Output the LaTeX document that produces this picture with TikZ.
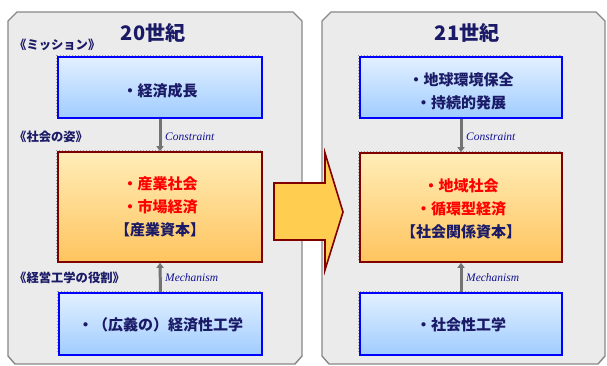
\documentclass[tikz,border=0pt]{standalone}
\usepackage{fontspec}
\setmainfont{Noto Sans CJK JP}
\newfontfamily\lserif{Liberation Serif}
\usetikzlibrary{arrows.meta}
\definecolor{navy}{HTML}{1A1A66}
\definecolor{panelfill}{HTML}{EBEBEB}
\definecolor{panelline}{HTML}{888888}
\definecolor{bluetop}{HTML}{E2F0FF}
\definecolor{bluebot}{HTML}{A0CCFF}
\definecolor{orgtop}{HTML}{FFEDB8}
\definecolor{orgbot}{HTML}{FFC45E}
\definecolor{maroon}{HTML}{800000}
\definecolor{txtred}{HTML}{FF0000}
\tikzset{
  panel/.style={draw=panelline, line width=1.4pt, fill=panelfill},
  bluebox/.style={draw=blue, line width=1.6pt, top color=bluetop, bottom color=bluebot, inner sep=0pt},
  orgbox/.style={draw=maroon, line width=1.6pt, top color=orgtop, bottom color=orgbot, inner sep=0pt},
  shadowline/.style={draw=gray!80, dotted, line width=1pt},
  linktext/.style={font=\fontsize{15}{23}\selectfont\bfseries, align=center},
  sectlabel/.style={anchor=west, font=\fontsize{12.3}{15}\selectfont\bfseries\color{navy}, inner sep=0pt},
  title/.style={font=\fontsize{20}{22}\selectfont\bfseries\color{navy}},
  conn/.style={draw=gray!90!black, line width=3pt, -{Triangle[length=5pt,width=7pt]}},
  connlabel/.style={anchor=west, font=\lserif\itshape\fontsize{11.5}{13}\selectfont\color{navy!70!blue}, inner sep=0pt}
}
\begin{document}
\begin{tikzpicture}[x=1pt,y=-1pt]
\useasboundingbox (0,0) rectangle (607,365);
\fill[white] (0,0) rectangle (607,365);
% panels
\path[panel] (17,12) -- (293,12) -- (302,21) -- (302,356) -- (295,364) -- (15,364) -- (8,356) -- (8,21) -- cycle;
\path[panel] (331,12) -- (596,12) -- (605,21) -- (605,356) -- (598,364) -- (329,364) -- (322,356) -- (322,21) -- cycle;
% titles
\node[title] (t20) at (153,33) {20世紀};
\node[title] (t21) at (467,33) {21世紀};
% section labels
\node[sectlabel] (lm) at (14,45) {《ミッション》};
\node[sectlabel] (ls) at (14,137) {《社会の姿》};
\node[sectlabel] (le) at (14,278) {《経営工学の役割》};
% dotted shadows
\draw[shadowline] (56,55) rectangle (260,116);
\draw[shadowline] (56,150) rectangle (260,260);
\draw[shadowline] (57,291) rectangle (260,353);
\draw[shadowline] (358,55) rectangle (560,116);
\draw[shadowline] (358,151) rectangle (560,260);
\draw[shadowline] (358,291) rectangle (560,353);
% boxes left
\node[bluebox, minimum width=204pt, minimum height=61pt] (L1) at (160,87.5) {};
\node[linktext, text=navy] (L1t) at (160,91) {・経済成長};
\node[orgbox, minimum width=204pt, minimum height=110pt] (L2) at (160,207) {};
\node[linktext] (L2t) at (160,207) {\textcolor{txtred}{・産業社会}\\\textcolor{txtred}{・市場経済}\\\textcolor{navy}{【産業資本】}};
\node[bluebox, minimum width=203pt, minimum height=62pt] (L3) at (160.5,324) {};
\node[linktext, text=navy] (L3t) at (160.5,325) {・（広義の）経済性工学};
% boxes right
\node[bluebox, minimum width=202pt, minimum height=61pt] (R1) at (461,87.5) {};
\node[linktext, text=navy] (R1t) at (461,91.5) {・地球環境保全\\・持続的発展};
\node[orgbox, minimum width=202pt, minimum height=109pt] (R2) at (461,207.5) {};
\node[linktext] (R2t) at (461,209) {\textcolor{txtred}{・地域社会}\\\textcolor{txtred}{・循環型経済}\\\textcolor{navy}{【社会関係資本】}};
\node[bluebox, minimum width=202pt, minimum height=62pt] (R3) at (461,324) {};
\node[linktext, text=navy] (R3t) at (461,325) {・社会性工学};
% connectors
\draw[conn] (L1.south) -- (L2.north);
\draw[conn] (L3.north) -- (L2.south);
\draw[conn] (R1.south) -- (R2.north);
\draw[conn] (R3.north) -- (R2.south);
\node[connlabel] (c1) at (165,137) {Constraint};
\node[connlabel] (c2) at (466,137) {Constraint};
\node[connlabel] (m1) at (165,278) {Mechanism};
\node[connlabel] (m2) at (466,278) {Mechanism};
% big arrow
\draw[draw=maroon, line width=1.6pt, fill=orgbot!85!yellow, line join=miter] (274,183) -- (325,183) -- (325,153) -- (343,212) -- (325,270) -- (325,240) -- (274,240) -- cycle;
\end{tikzpicture}
\end{document}
